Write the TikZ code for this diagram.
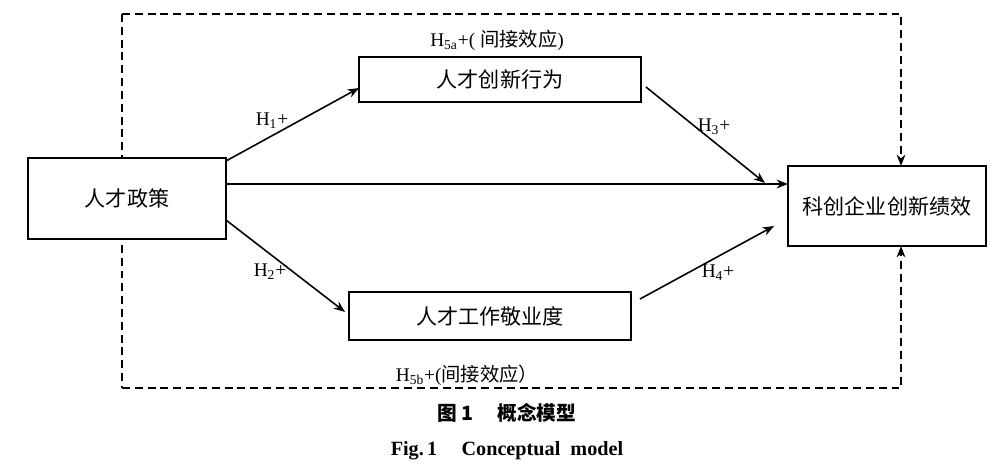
\documentclass[tikz,border=0pt]{standalone}
\usepackage{fontspec}
\setmainfont{Liberation Serif}
\newfontfamily\cjk{Noto Sans CJK SC}
\usetikzlibrary{arrows.meta,calc}
\tikzset{
  box/.style={draw, line width=1.1pt, fill=white, inner sep=0pt, outer sep=0pt, font=\cjk\fontsize{12}{14}\selectfont},
  arr/.style={line width=0.9pt, -{Stealth[length=6.5pt,width=5pt]}},
  dashline/.style={line width=0.9pt, dash pattern=on 4.5pt off 2.8pt},
  darr/.style={dashline, -{Stealth[length=6.5pt,width=5pt]}},
  hlab/.style={font=\fontsize{11}{13}\selectfont, inner sep=0pt},
}
\begin{document}
\begin{tikzpicture}[x=0.02cm,y=-0.02cm]
\useasboundingbox (0,0) rectangle (1000,470);
% dashed frame
\coordinate (tl) at (122,14);
\coordinate (tr) at (901,14);
\coordinate (bl) at (122,388);
\coordinate (br) at (901,388);
\draw[dashline] (tl) -- (bl);
% boxes
\node[box, minimum width=3.96cm, minimum height=1.62cm] (policy) at (127,198.5) {人才政策};
\node[box, minimum width=5.64cm, minimum height=0.9cm] (behav) at (500,79.5) {人才创新行为};
\node[box, minimum width=3.96cm, minimum height=1.6cm] (perf) at (887,206) {科创企业创新绩效};
\node[box, minimum width=5.64cm, minimum height=0.96cm] (engage) at (490,316) {人才工作敬业度};
\draw[darr] (tl) -- (tr) -- (perf.north -| tr);
\draw[darr] (bl) -- (br) -- (perf.south -| br);
% arrows
\draw[arr] ([yshift=-0.06cm]policy.north east) -- ([yshift=-0.17cm]behav.west);
\draw[arr] ([yshift=0.38cm]policy.south east) -- ([xshift=-0.08cm,yshift=-0.4cm]engage.north west);
\draw[arr] ([yshift=0.29cm]policy.east) -- ([yshift=0.44cm]perf.west);
\draw[arr] ([xshift=0.1cm,yshift=-0.15cm]behav.east) -- ([xshift=-0.46cm,yshift=0.46cm]perf.west);
\draw[arr] ([xshift=0.18cm,yshift=-0.14cm]engage.north east) -- ([xshift=-0.28cm,yshift=-0.4cm]perf.west);
% labels
\node[hlab] (h1) at (272,121) {H\textsubscript{1}+};
\node[hlab] (h2) at (270,272) {H\textsubscript{2}+};
\node[hlab] (h3) at (714,127) {H\textsubscript{3}+};
\node[hlab] (h4) at (718,273) {H\textsubscript{4}+};
\node[hlab] (h5a) at (497,40) {H\textsubscript{5a}+( {\cjk 间接效应})};
\node[hlab] (h5b) at (467,375) {H\textsubscript{5b}+({\cjk 间接效应）}};
% caption
\node[font=\cjk\bfseries\fontsize{11.2}{13}\selectfont, inner sep=0pt] (cap1) at (507,413) {图 1\hspace{1.2em}概念模型};
\node[font=\bfseries\fontsize{11.5}{13}\selectfont, inner sep=0pt] (cap2) at (507,451) {Fig.\,1\hspace{1.2em}Conceptual\ \ model};
\end{tikzpicture}
\end{document}
